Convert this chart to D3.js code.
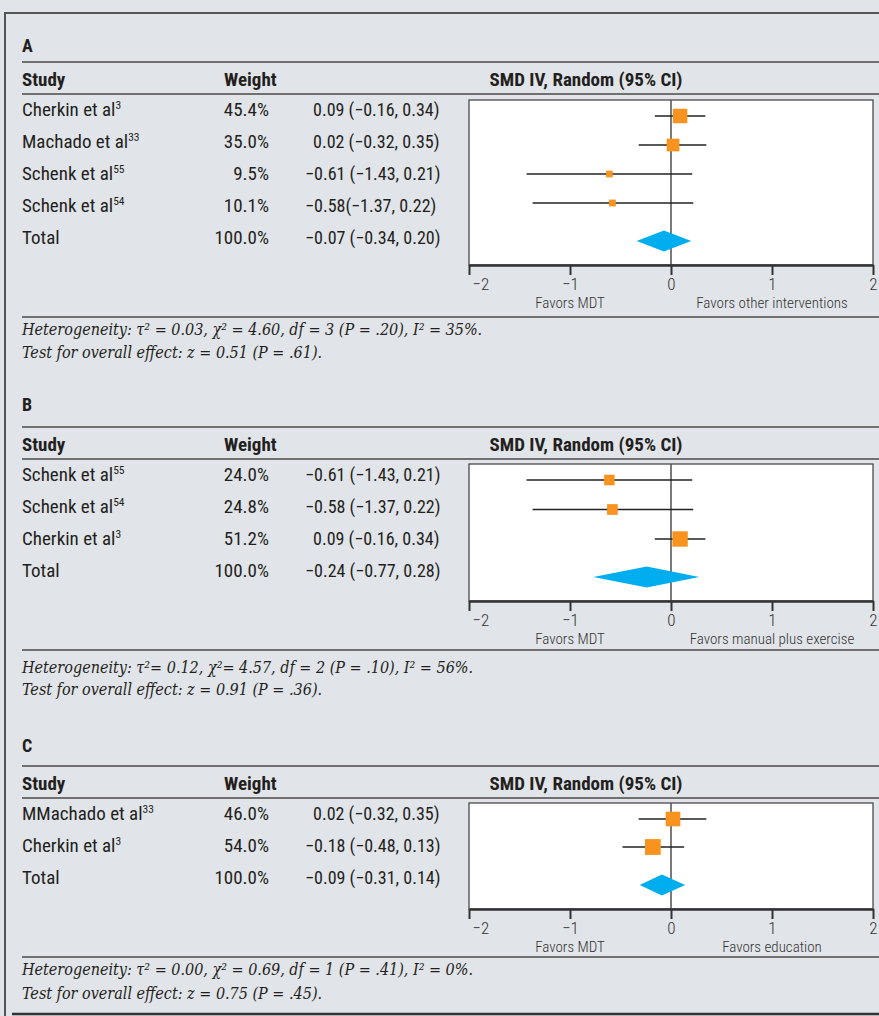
<!DOCTYPE html>
<html><head><meta charset="utf-8">
<script src="https://cdn.jsdelivr.net/npm/d3@7"></script>
<style>body{margin:0;padding:0;background:#e1e4e8;} svg{display:block;}</style>
</head><body>
<script>
// ---------------- DATA ----------------
const panelLabels = ["A", "B", "C"];
const xTicks = [-2, -1, 0, 1, 2];

const studiesA = ["Cherkin et al", "Machado et al", "Schenk et al", "Schenk et al"];
const refsA = ["3", "33", "55", "54"];
const weightsA = [45.4, 35.0, 9.5, 10.1];
const smdA = [0.09, 0.02, -0.61, -0.58];
const lowA = [-0.16, -0.32, -1.43, -1.37];
const highA = [0.34, 0.35, 0.21, 0.22];
const ciLabelsA = ["0.09 (−0.16, 0.34)", "0.02 (−0.32, 0.35)", "−0.61 (−1.43, 0.21)", "−0.58(−1.37, 0.22)"];

const studiesB = ["Schenk et al", "Schenk et al", "Cherkin et al"];
const refsB = ["55", "54", "3"];
const weightsB = [24.0, 24.8, 51.2];
const smdB = [-0.61, -0.58, 0.09];
const lowB = [-1.43, -1.37, -0.16];
const highB = [0.21, 0.22, 0.34];
const ciLabelsB = ["−0.61 (−1.43, 0.21)", "−0.58 (−1.37, 0.22)", "0.09 (−0.16, 0.34)"];

const studiesC = ["MMachado et al", "Cherkin et al"];
const refsC = ["33", "3"];
const weightsC = [46.0, 54.0];
const smdC = [0.02, -0.18];
const lowC = [-0.32, -0.48];
const highC = [0.35, 0.13];
const ciLabelsC = ["0.02 (−0.32, 0.35)", "−0.18 (−0.48, 0.13)"];

const totalSmd = [-0.07, -0.24, -0.09];
const totalLow = [-0.34, -0.77, -0.31];
const totalHigh = [0.20, 0.28, 0.14];
const totalLabels = ["−0.07 (−0.34, 0.20)", "−0.24 (−0.77, 0.28)", "−0.09 (−0.31, 0.14)"];
const totalWeightLabel = "100.0%";

const favorsLeft = ["Favors MDT", "Favors MDT", "Favors MDT"];
const favorsRight = ["Favors other interventions", "Favors manual plus exercise", "Favors education"];
const heterogeneity = [
  "Heterogeneity: τ² = 0.03, χ² = 4.60, df = 3 (P = .20), I² = 35%.",
  "Heterogeneity: τ²= 0.12, χ²= 4.57, df = 2 (P = .10), I² = 56%.",
  "Heterogeneity: τ² = 0.00, χ² = 0.69, df = 1 (P = .41), I² = 0%."
];
const overallEffect = [
  "Test for overall effect: z = 0.51 (P = .61).",
  "Test for overall effect: z = 0.91 (P = .36).",
  "Test for overall effect: z = 0.75 (P = .45)."
];
const headers = ["Study", "Weight", "SMD IV, Random (95% CI)"];

// ---------------- BUILD ----------------
const panels = [
  {studies: studiesA, refs: refsA, w: weightsA, smd: smdA, lo: lowA, hi: highA, ci: ciLabelsA},
  {studies: studiesB, refs: refsB, w: weightsB, smd: smdB, lo: lowB, hi: highB, ci: ciLabelsB},
  {studies: studiesC, refs: refsC, w: weightsC, smd: smdC, lo: lowC, hi: highC, ci: ciLabelsC}
];
const layout = [
  {title: 45, top: 62, boxTop: 100, boxBottom: 265, bottomLine: 317, het: 335, test: 358},
  {title: 404, top: 427, boxTop: 464, boxBottom: 601, bottomLine: 650, het: 673, test: 695},
  {title: 745, top: 766, boxTop: 803, boxBottom: 909, bottomLine: 957, het: 975, test: 999}
];

const W = 879, H = 1016;
const SANS = "'Roboto Condensed', 'DejaVu Sans Condensed', sans-serif";
const SERIF = "'DejaVu Serif', serif";
const TXT = "#231f20";
const LINE = "#4a4a4a";

const svg = d3.select("body").append("svg").attr("width", W).attr("height", H);
svg.append("rect").attr("width", W).attr("height", H).attr("fill", "#e1e4e8");
svg.append("path").attr("d", `M5,${H} V13 H${W}`).attr("fill", "none").attr("stroke", "#555").attr("stroke-width", 2);

const x = d3.scaleLinear().domain([-2, 2]).range([469, 873]);
const side = d3.scaleSqrt().domain([0, 100]).range([0, 21.5]);

const colStudy = 22, colWeight = 269, colCI = 313, hang = 8;

panels.forEach((p, k) => {
  const L = layout[k];
  const g = svg.append("g");
  g.append("text").attr("x", colStudy).attr("y", L.title + 7).text(panelLabels[k])
    .attr("font-family", SANS).attr("font-weight", "bold").attr("font-size", 18).attr("fill", TXT);
  [L.top, L.top + 32].forEach(y => g.append("line").attr("x1", 22).attr("x2", W).attr("y1", y).attr("y2", y)
    .attr("stroke", LINE).attr("stroke-width", 1.5));
  const hy = L.top + 24;
  const hg = g.append("g").attr("font-family", SANS).attr("font-weight", "bold").attr("font-size", 19).attr("fill", TXT);
  hg.append("text").attr("x", colStudy).attr("y", hy).text(headers[0]);
  hg.append("text").attr("x", 224).attr("y", hy).text(headers[1]);
  hg.append("text").attr("x", 586).attr("y", hy).attr("text-anchor", "middle").text(headers[2]);

  const rowY = i => L.top + 48 + 32 * i + 6;
  const n = p.studies.length;
  const rows = p.studies.map((s, i) => ({s, ref: p.refs[i], w: p.w[i], ci: p.ci[i]}));
  rows.push({s: "Total", ref: null, w: null, ci: totalLabels[k]});
  const rg = g.append("g").attr("font-family", SANS).attr("font-size", 19).attr("fill", TXT);
  rows.forEach((r, i) => {
    const t = rg.append("text").attr("x", colStudy).attr("y", rowY(i));
    t.append("tspan").text(r.s);
    if (r.ref) t.append("tspan").attr("dy", -7).attr("font-size", 11.5).text(r.ref);
    rg.append("text").attr("x", colWeight).attr("y", rowY(i)).attr("text-anchor", "end")
      .text(r.w === null ? totalWeightLabel : r.w.toFixed(1) + "%");
    rg.append("text").attr("x", r.ci.startsWith("−") ? colCI - hang : colCI).attr("y", rowY(i))
      .attr("font-size", 18).text(r.ci);
  });

  g.append("rect").attr("x", x(-2)).attr("y", L.boxTop).attr("width", x(2) - x(-2))
    .attr("height", L.boxBottom - L.boxTop).attr("fill", "#fff").attr("stroke", LINE).attr("stroke-width", 1.3);
  g.append("line").attr("x1", x(0)).attr("x2", x(0)).attr("y1", L.boxTop).attr("y2", L.boxBottom)
    .attr("stroke", "#5a5a5a").attr("stroke-width", 1.6);

  const yS = d3.scalePoint().domain(d3.range(n)).range([L.boxTop + 16, L.boxBottom - 62]);
  const yD = L.boxBottom - 24;

  g.selectAll(".ci").data(d3.range(n)).join("line")
    .attr("x1", i => x(p.lo[i])).attr("x2", i => x(p.hi[i]))
    .attr("y1", i => yS(i)).attr("y2", i => yS(i))
    .attr("stroke", "#222").attr("stroke-width", 1.3);
  g.selectAll(".sq").data(d3.range(n)).join("rect")
    .attr("x", i => x(p.smd[i]) - side(p.w[i]) / 2)
    .attr("y", i => yS(i) - side(p.w[i]) / 2)
    .attr("width", i => side(p.w[i])).attr("height", i => side(p.w[i]))
    .attr("fill", "#f7931e");
  const hh = 10.5;
  g.append("path").attr("d",
    `M${x(totalLow[k])},${yD} L${x(totalSmd[k])},${yD - hh} L${x(totalHigh[k])},${yD} L${x(totalSmd[k])},${yD + hh} Z`)
    .attr("fill", "#00aeef");

  const ax = g.append("g").attr("transform", `translate(0,${L.boxBottom})`)
    .call(d3.axisBottom(x).tickValues(xTicks).tickFormat(d3.format("d")).tickSize(10).tickSizeOuter(0).tickPadding(3));
  ax.select(".domain").attr("stroke", "#333").attr("stroke-width", 2.6);
  ax.selectAll(".tick line").attr("stroke", "#333").attr("stroke-width", 2);
  ax.selectAll(".tick text").attr("font-family", SANS).attr("font-weight", 300).attr("font-size", 17).attr("fill", "#333");
  ax.selectAll(".tick text").filter(d => d === xTicks[0]).attr("text-anchor", "start").attr("dx", 3);

  const fg = g.append("g").attr("font-family", SANS).attr("font-weight", 300).attr("font-size", 15).attr("fill", "#333")
    .attr("text-anchor", "middle");
  fg.append("text").attr("x", x(-1)).attr("y", L.boxBottom + 43).text(favorsLeft[k]);
  fg.append("text").attr("x", x(1)).attr("y", L.boxBottom + 43).text(favorsRight[k]);

  g.append("line").attr("x1", 22).attr("x2", W).attr("y1", L.bottomLine).attr("y2", L.bottomLine)
    .attr("stroke", LINE).attr("stroke-width", 1.5);

  const ng = g.append("g").attr("font-family", SERIF).attr("font-style", "italic").style("font-stretch", "condensed")
    .attr("font-size", 16).attr("fill", TXT);
  ng.append("text").attr("x", 22).attr("y", L.het).text(heterogeneity[k]);
  ng.append("text").attr("x", 22).attr("y", L.test).text(overallEffect[k]);
});

svg.append("line").attr("x1", 12).attr("x2", W).attr("y1", 1014).attr("y2", 1014)
  .attr("stroke", "#333").attr("stroke-width", 2.5);
</script>
</body></html>
